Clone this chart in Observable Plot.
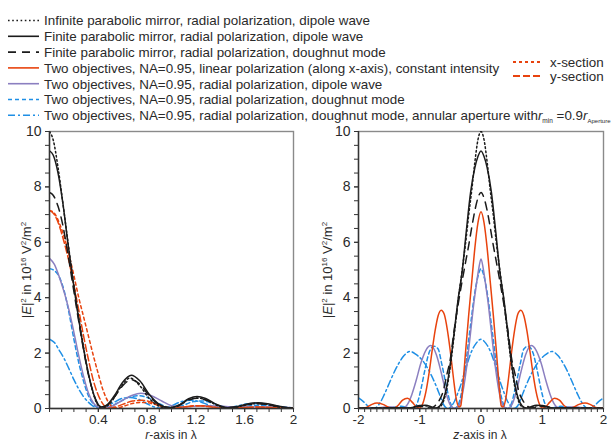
<!DOCTYPE html>
<html><head><meta charset="utf-8">
<script src="https://cdn.jsdelivr.net/npm/d3@7"></script>
<script src="https://cdn.jsdelivr.net/npm/@observablehq/plot@0.6"></script>
<style>
body{margin:0;background:#fff}
#root{position:relative;width:613px;height:441px;overflow:hidden;background:#fff;font-family:"Liberation Sans",Arial,sans-serif}
#legend{position:absolute;left:0;top:0}
#left{position:absolute;left:0;top:115px}
#right{position:absolute;left:306px;top:115px}
</style></head>
<body>
<div id="root"><svg id="legend" width="613" height="130"></svg><div id="left"></div><div id="right"></div></div>
<script>
// ---------- data ----------
// left panel: radial cut, r in wavelengths, |E|^2 in 1e16 V^2/m^2
const rInfDipole = [[0,10],[0.03,9.7],[0.07,8.7],[0.11,7.4],[0.15,6.05],[0.19,4.75],[0.23,3.55],[0.27,2.45],[0.31,1.45],[0.35,0.68],[0.39,0.17],[0.43,0.01],[0.5,0.2],[0.58,0.75],[0.66,1.1],[0.74,0.82],[0.82,0.35],[0.9,0.08],[0.97,0.0],[1.05,0.1],[1.13,0.3],[1.21,0.38],[1.29,0.3],[1.38,0.1],[1.46,0.0],[1.55,0.07],[1.63,0.15],[1.71,0.18],[1.79,0.14],[1.88,0.05],[1.96,0.0],[2,0.02]];
const rFinDipole = [[0,9.3],[0.03,9.15],[0.07,8.5],[0.11,7.4],[0.15,6.0],[0.19,4.7],[0.23,3.5],[0.27,2.4],[0.31,1.45],[0.35,0.7],[0.39,0.2],[0.43,0.05],[0.47,0.12],[0.53,0.45],[0.6,0.95],[0.67,1.2],[0.74,1.0],[0.82,0.5],[0.9,0.15],[0.98,0.03],[1.06,0.12],[1.14,0.35],[1.21,0.43],[1.28,0.36],[1.37,0.15],[1.46,0.03],[1.55,0.08],[1.63,0.17],[1.71,0.21],[1.79,0.17],[1.88,0.08],[1.96,0.03],[2,0.02]];
const rFinDoughnut = [[0,7.8],[0.03,7.7],[0.07,7.3],[0.11,6.6],[0.15,5.6],[0.19,4.5],[0.23,3.4],[0.27,2.35],[0.31,1.4],[0.35,0.7],[0.39,0.22],[0.43,0.06],[0.47,0.12],[0.53,0.4],[0.6,0.82],[0.67,1.04],[0.74,0.88],[0.82,0.45],[0.9,0.13],[0.98,0.03],[1.06,0.1],[1.14,0.3],[1.21,0.37],[1.28,0.31],[1.37,0.13],[1.46,0.03],[1.55,0.07],[1.63,0.14],[1.71,0.17],[1.79,0.14],[1.88,0.07],[1.96,0.02],[2,0.02]];
const rLinearX = [[0,7.15],[0.04,7.05],[0.08,6.7],[0.12,6.2],[0.16,5.55],[0.2,4.8],[0.24,4.0],[0.28,3.3],[0.32,2.6],[0.36,1.9],[0.4,1.25],[0.44,0.65],[0.48,0.25],[0.52,0.05],[0.56,0.02],[0.62,0.1],[0.7,0.2],[0.78,0.22],[0.86,0.15],[0.95,0.05],[1.03,0.02],[1.12,0.06],[1.22,0.1],[1.32,0.07],[1.42,0.02],[1.55,0.03],[1.7,0.05],[1.85,0.03],[2,0.01]];
const rLinearY = [[0,7.15],[0.04,7.0],[0.08,6.6],[0.12,6.0],[0.16,5.3],[0.2,4.45],[0.24,3.55],[0.28,2.6],[0.32,1.75],[0.36,1.0],[0.4,0.48],[0.44,0.15],[0.48,0.02],[0.52,0.03],[0.6,0.15],[0.68,0.27],[0.76,0.3],[0.84,0.22],[0.92,0.08],[1.0,0.02],[1.1,0.06],[1.2,0.1],[1.3,0.07],[1.4,0.02],[1.55,0.03],[1.7,0.05],[1.85,0.03],[2,0.01]];
const rRadDipole = [[0,5.42],[0.04,5.2],[0.08,4.75],[0.12,4.2],[0.16,3.55],[0.2,2.75],[0.24,1.9],[0.28,1.15],[0.32,0.55],[0.36,0.2],[0.4,0.05],[0.45,0.02],[0.52,0.1],[0.6,0.3],[0.68,0.48],[0.75,0.55],[0.83,0.47],[0.92,0.27],[1.0,0.1],[1.08,0.05],[1.18,0.08],[1.3,0.1],[1.42,0.08],[1.55,0.05],[1.7,0.06],[1.85,0.05],[2,0.03]];
const rRadDoughnut = [[0,5.05],[0.04,4.98],[0.08,4.75],[0.12,4.25],[0.16,3.45],[0.2,2.5],[0.24,1.65],[0.28,0.97],[0.32,0.45],[0.36,0.16],[0.4,0.04],[0.44,0.01],[0.5,0.08],[0.58,0.25],[0.66,0.42],[0.73,0.46],[0.8,0.4],[0.88,0.22],[0.96,0.06],[1.02,0.02],[1.1,0.12],[1.18,0.25],[1.25,0.27],[1.33,0.2],[1.42,0.07],[1.5,0.02],[1.6,0.07],[1.7,0.12],[1.78,0.12],[1.88,0.07],[2,0.02]];
const rAnnular = [[0,2.5],[0.04,2.38],[0.08,2.1],[0.12,1.8],[0.16,1.43],[0.2,1.04],[0.24,0.7],[0.28,0.42],[0.32,0.22],[0.36,0.08],[0.4,0.01],[0.45,0.04],[0.52,0.2],[0.6,0.37],[0.66,0.4],[0.73,0.33],[0.8,0.17],[0.87,0.04],[0.92,0.01],[0.99,0.08],[1.07,0.23],[1.15,0.3],[1.23,0.25],[1.31,0.12],[1.39,0.02],[1.45,0.01],[1.53,0.08],[1.62,0.17],[1.7,0.19],[1.78,0.14],[1.87,0.05],[1.95,0.01],[2,0.02]];

// right panel: axial cut, z in wavelengths
const zInfDipole = [[-2,0.01],[-1.6,0.02],[-1.4,0.03],[-1.22,0.01],[-1.12,0.03],[-1.02,0.08],[-0.92,0.1],[-0.82,0.05],[-0.74,0.01],[-0.67,0.06],[-0.61,0.28],[-0.55,0.8],[-0.49,1.7],[-0.43,2.8],[-0.37,3.95],[-0.31,4.95],[-0.25,6.0],[-0.2,7.0],[-0.15,7.9],[-0.1,8.9],[-0.05,9.7],[0,10],[0.05,9.7],[0.1,8.9],[0.15,7.9],[0.2,7.0],[0.25,6.0],[0.31,4.95],[0.37,3.95],[0.43,2.8],[0.49,1.7],[0.55,0.8],[0.61,0.28],[0.67,0.06],[0.74,0.01],[0.82,0.05],[0.92,0.1],[1.02,0.08],[1.12,0.03],[1.22,0.01],[1.4,0.03],[1.6,0.02],[2,0.01]];
const zFinDipole = [[-2,0.01],[-1.7,0.01],[-1.5,0.03],[-1.35,0.03],[-1.2,0.01],[-1.1,0.05],[-1.0,0.11],[-0.9,0.12],[-0.8,0.05],[-0.74,0.02],[-0.67,0.1],[-0.61,0.35],[-0.55,0.9],[-0.49,1.8],[-0.43,2.9],[-0.37,4.0],[-0.31,4.9],[-0.24,6.4],[-0.17,7.8],[-0.1,8.7],[-0.05,9.1],[0,9.3],[0.05,9.1],[0.1,8.7],[0.17,7.8],[0.24,6.4],[0.31,4.9],[0.37,4.0],[0.43,2.9],[0.49,1.8],[0.55,0.9],[0.61,0.35],[0.67,0.1],[0.74,0.02],[0.8,0.05],[0.9,0.12],[1.0,0.11],[1.1,0.05],[1.2,0.01],[1.35,0.03],[1.5,0.03],[1.7,0.01],[2,0.01]];
const zFinDoughnut = [[-2,0.01],[-1.6,0.02],[-1.4,0.02],[-1.2,0.02],[-1.1,0.06],[-1.0,0.08],[-0.9,0.04],[-0.82,0.02],[-0.75,0.1],[-0.68,0.3],[-0.62,0.6],[-0.56,1.2],[-0.5,1.8],[-0.44,2.8],[-0.37,3.8],[-0.3,4.7],[-0.25,5.3],[-0.2,5.9],[-0.15,6.55],[-0.1,7.15],[-0.05,7.6],[0,7.8],[0.05,7.6],[0.1,7.15],[0.15,6.55],[0.2,5.9],[0.25,5.3],[0.3,4.7],[0.37,3.8],[0.44,2.8],[0.5,1.8],[0.56,1.2],[0.62,0.6],[0.68,0.3],[0.75,0.1],[0.82,0.02],[0.9,0.04],[1.0,0.08],[1.1,0.06],[1.2,0.02],[1.4,0.02],[1.6,0.02],[2,0.01]];
const zLinear = [[-2,0.02],[-1.93,0.01],[-1.86,0.05],[-1.78,0.15],[-1.7,0.2],[-1.6,0.15],[-1.5,0.04],[-1.43,0.01],[-1.36,0.1],[-1.28,0.3],[-1.2,0.37],[-1.12,0.22],[-1.05,0.05],[-1.0,0.02],[-0.95,0.18],[-0.9,0.6],[-0.85,1.25],[-0.8,2.05],[-0.75,2.8],[-0.7,3.35],[-0.65,3.55],[-0.6,3.4],[-0.55,2.85],[-0.5,2.05],[-0.45,1.1],[-0.4,0.3],[-0.36,0.05],[-0.33,0.1],[-0.29,1.0],[-0.25,2.1],[-0.2,3.4],[-0.15,4.6],[-0.1,5.8],[-0.05,6.7],[0,7.1],[0.05,6.7],[0.1,5.8],[0.15,4.6],[0.2,3.4],[0.25,2.1],[0.29,1.0],[0.33,0.1],[0.36,0.05],[0.4,0.3],[0.45,1.1],[0.5,2.05],[0.55,2.85],[0.6,3.4],[0.65,3.55],[0.7,3.35],[0.75,2.8],[0.8,2.05],[0.85,1.25],[0.9,0.6],[0.95,0.18],[1.0,0.02],[1.05,0.05],[1.12,0.22],[1.2,0.37],[1.28,0.3],[1.36,0.1],[1.43,0.01],[1.5,0.04],[1.6,0.15],[1.7,0.2],[1.78,0.15],[1.86,0.05],[1.93,0.01],[2,0.02]];
const zRadDipole = [[-2,0.01],[-1.7,0.02],[-1.55,0.05],[-1.45,0.05],[-1.35,0.02],[-1.27,0.02],[-1.2,0.15],[-1.13,0.5],[-1.06,1.0],[-0.98,1.65],[-0.9,2.1],[-0.82,2.27],[-0.73,1.95],[-0.65,1.3],[-0.57,0.55],[-0.5,0.12],[-0.43,0.0],[-0.36,0.1],[-0.32,0.35],[-0.28,0.8],[-0.24,1.4],[-0.2,2.15],[-0.16,2.95],[-0.12,3.75],[-0.08,4.4],[-0.04,5.0],[0,5.4],[0.04,5.0],[0.08,4.4],[0.12,3.75],[0.16,2.95],[0.2,2.15],[0.24,1.4],[0.28,0.8],[0.32,0.35],[0.36,0.1],[0.43,0.0],[0.5,0.12],[0.57,0.55],[0.65,1.3],[0.73,1.95],[0.82,2.27],[0.9,2.1],[0.98,1.65],[1.06,1.0],[1.13,0.5],[1.2,0.15],[1.27,0.02],[1.35,0.02],[1.45,0.05],[1.55,0.05],[1.7,0.02],[2,0.01]];
const zRadDoughnut = [[-2,0.01],[-1.8,0.02],[-1.6,0.01],[-1.45,0.04],[-1.3,0.08],[-1.18,0.03],[-1.1,0.02],[-1.04,0.2],[-0.98,0.7],[-0.92,1.35],[-0.85,2.0],[-0.77,2.25],[-0.7,2.15],[-0.64,1.6],[-0.57,0.85],[-0.5,0.2],[-0.44,0.0],[-0.4,0.04],[-0.36,0.2],[-0.32,0.55],[-0.28,1.1],[-0.24,1.75],[-0.2,2.5],[-0.16,3.2],[-0.12,3.9],[-0.08,4.45],[-0.04,4.85],[0,5.05],[0.04,4.85],[0.08,4.45],[0.12,3.9],[0.16,3.2],[0.2,2.5],[0.24,1.75],[0.28,1.1],[0.32,0.55],[0.36,0.2],[0.4,0.04],[0.44,0.0],[0.5,0.2],[0.57,0.85],[0.64,1.6],[0.7,2.15],[0.77,2.25],[0.85,2.0],[0.92,1.35],[0.98,0.7],[1.04,0.2],[1.1,0.02],[1.18,0.03],[1.3,0.08],[1.45,0.04],[1.6,0.01],[1.8,0.02],[2,0.01]];
const zAnnular = [[-2,0.38],[-1.92,0.25],[-1.85,0.1],[-1.78,0.02],[-1.72,0.03],[-1.65,0.2],[-1.58,0.5],[-1.5,0.9],[-1.42,1.3],[-1.35,1.6],[-1.26,1.9],[-1.16,2.06],[-1.06,1.95],[-0.95,1.72],[-0.87,1.45],[-0.8,1.15],[-0.72,0.75],[-0.65,0.35],[-0.6,0.1],[-0.54,0.0],[-0.48,0.1],[-0.43,0.27],[-0.38,0.55],[-0.33,0.85],[-0.27,1.3],[-0.22,1.65],[-0.16,2.03],[-0.08,2.35],[0,2.5],[0.08,2.35],[0.16,2.03],[0.22,1.65],[0.27,1.3],[0.33,0.85],[0.38,0.55],[0.43,0.27],[0.48,0.1],[0.54,0.0],[0.6,0.1],[0.65,0.35],[0.72,0.75],[0.8,1.15],[0.87,1.45],[0.95,1.72],[1.06,1.95],[1.16,2.06],[1.26,1.9],[1.35,1.6],[1.42,1.3],[1.5,0.9],[1.58,0.5],[1.65,0.2],[1.72,0.03],[1.78,0.02],[1.85,0.1],[1.92,0.25],[2,0.38]];

// tick labels
const rTickLabels = [0.4, 0.8, 1.2, 1.6, 2];
const zTickLabels = [-2, -1, 0, 1, 2];
const yTickLabels = [0, 2, 4, 6, 8, 10];

// legend texts
const legendLabels = [
  "Infinite parabolic mirror, radial polarization, dipole wave",
  "Finite parabolic mirror, radial polarization, dipole wave",
  "Finite parabolic mirror, radial polarization, doughnut mode",
  "Two objectives, NA=0.95, linear polarization (along x-axis), constant intensity",
  "Two objectives, NA=0.95, radial polarization, dipole wave",
  "Two objectives, NA=0.95, radial polarization, doughnut mode",
  "Two objectives, NA=0.95, radial polarization, doughnut mode, annular aperture with"
];
const sectionLabels = ["x-section", "y-section"];

// ---------- styles ----------
const BLACK = "#1b1b1b", RED = "#e8430e", PURPLE = "#8b7fc0", BLUE = "#1f8fe5";
const legendStyles = [
  {stroke: BLACK, dash: "1.6,2.6"},
  {stroke: BLACK, dash: null},
  {stroke: BLACK, dash: "8,6"},
  {stroke: RED, dash: null},
  {stroke: PURPLE, dash: null},
  {stroke: BLUE, dash: "4,3"},
  {stroke: BLUE, dash: "7,3,2,3"}
];
const sectionStyles = [{stroke: RED, dash: "3,3"}, {stroke: RED, dash: "7,3"}];
const FONT = '"Liberation Sans", Arial, sans-serif';
const TXT = "#2a2a2a";
const LEG_FS = 13.4;
const plain = d => String(d);

function lineMark(data, st) {
  return Plot.line(data, {x: d => d[0], y: d => d[1], stroke: st.stroke, strokeWidth: 1.5,
    strokeDasharray: st.dash || undefined, curve: "monotone-x", clip: true});
}

function panel(xDomain, xLabels, series, minorStep) {
  const minor = d3.range(Math.round((xDomain[1]-xDomain[0])/minorStep)+1).map(i => xDomain[0] + i*minorStep);
  const yMinor = d3.range(21).map(i => i*0.5);
  return [
    Plot.frame({stroke: "#8a8a8a", strokeWidth: 1.4}),
    Plot.axisX({ticks: minor, tickSize: 4, tickFormat: () => "", label: null, stroke: "#333"}),
    Plot.axisX({ticks: xLabels, tickSize: 4, tickPadding: 2, label: null, tickFormat: plain, fill: TXT, stroke: "#333", fontSize: 13.5}),
    Plot.axisY({ticks: yMinor, tickSize: 4, tickFormat: () => "", label: null, stroke: "#333"}),
    Plot.axisY({ticks: yTickLabels, tickSize: 4, tickPadding: 4, label: null, tickFormat: plain, fill: TXT, stroke: "#333", fontSize: 14}),
    ...series.map(([d, st]) => lineMark(d, st)),
    Plot.ruleX([xDomain[0]], {stroke: "#333", strokeWidth: 1.4}),
    Plot.ruleY([0], {stroke: "#333", strokeWidth: 1.4})
  ];
}

const S = {
  infDipole: legendStyles[0], finDipole: legendStyles[1], finDoughnut: legendStyles[2],
  linear: legendStyles[3], radDipole: legendStyles[4], radDoughnut: legendStyles[5], annular: legendStyles[6],
  linX: sectionStyles[0], linY: sectionStyles[1]
};

const leftSvg = Plot.plot({
  width: 306, height: 326, marginLeft: 49, marginRight: 13, marginTop: 16, marginBottom: 33,
  style: {fontFamily: FONT, fontSize: "14px", background: "transparent", overflow: "visible"},
  x: {domain: [0, 2]}, y: {domain: [0, 10]},
  marks: panel([0, 2], rTickLabels, [
    [rAnnular, S.annular], [rRadDoughnut, S.radDoughnut], [rRadDipole, S.radDipole],
    [rLinearX, S.linX], [rLinearY, S.linY],
    [rFinDoughnut, S.finDoughnut], [rInfDipole, S.infDipole], [rFinDipole, S.finDipole]
  ], 0.1)
});
document.getElementById("left").appendChild(leftSvg);

const rightSvg = Plot.plot({
  width: 307, height: 326, marginLeft: 52, marginRight: 10, marginTop: 16, marginBottom: 33,
  style: {fontFamily: FONT, fontSize: "14px", background: "transparent", overflow: "visible"},
  x: {domain: [-2, 2]}, y: {domain: [0, 10]},
  marks: panel([-2, 2], zTickLabels, [
    [zAnnular, S.annular], [zRadDoughnut, S.radDoughnut], [zRadDipole, S.radDipole],
    [zLinear, S.linear],
    [zFinDoughnut, S.finDoughnut], [zInfDipole, S.infDipole], [zFinDipole, S.finDipole]
  ], 0.1)
});
document.getElementById("right").appendChild(rightSvg);

// axis titles
function yTitle(svg, x, cy) {
  const t = d3.select(svg).append("text")
    .attr("transform", `translate(${x},${cy}) rotate(-90)`)
    .attr("text-anchor", "middle").attr("fill", TXT)
    .style("font-family", FONT).style("font-size", "13px");
  t.append("tspan").text("|");
  t.append("tspan").text("E").style("font-style", "italic");
  t.append("tspan").text("|");
  t.append("tspan").text("2").attr("dy", -5).style("font-size", "8px");
  t.append("tspan").text(" in 10").attr("dy", 5);
  t.append("tspan").text("16").attr("dy", -5).style("font-size", "8px");
  t.append("tspan").text(" V").attr("dy", 5);
  t.append("tspan").text("2").attr("dy", -5).style("font-size", "8px");
  t.append("tspan").text("/m").attr("dy", 5);
  t.append("tspan").text("2").attr("dy", -5).style("font-size", "8px");
}
function xTitle(svg, cx, y, v) {
  const t = d3.select(svg).append("text")
    .attr("x", cx).attr("y", y).attr("text-anchor", "middle").attr("fill", TXT)
    .style("font-family", FONT).style("font-size", "12px");
  t.append("tspan").text(v).style("font-style", "italic");
  t.append("tspan").text("-axis in λ");
}
yTitle(leftSvg, 31, 155);
yTitle(rightSvg, 26, 155);
xTitle(leftSvg, 171, 323.5, "r");
xTitle(rightSvg, 174, 323.5, "z");

// legend
const lg = d3.select("#legend");
const rowY = i => 20.5 + i * 15.8;
legendLabels.forEach((lab, i) => {
  const st = legendStyles[i];
  lg.append("line").attr("x1", 8).attr("x2", 39).attr("y1", rowY(i)).attr("y2", rowY(i))
    .attr("stroke", st.stroke).attr("stroke-width", 1.6).attr("stroke-dasharray", st.dash);
  const t = lg.append("text").attr("x", 44).attr("y", rowY(i) + 4.8).attr("fill", TXT)
    .style("font-family", FONT).style("font-size", LEG_FS + "px");
  t.append("tspan").text(lab);
  if (i === legendLabels.length - 1) {
    t.append("tspan").text("r").style("font-style", "italic");
    t.append("tspan").text("min").attr("dy", 3).style("font-size", "6.5px");
    t.append("tspan").text(" =0.9").attr("dy", -3);
    t.append("tspan").text("r").style("font-style", "italic");
    t.append("tspan").text("Aperture").attr("dy", 3).style("font-size", "6px");
  }
});
// fit the long last row inside the window, as in the reference where it reaches the edge
{
  const last = lg.selectAll("text").nodes()[legendLabels.length - 1];
  const w = last.getComputedTextLength();
  if (44 + w > 611) last.setAttribute("textLength", 611 - 44), last.setAttribute("lengthAdjust", "spacingAndGlyphs");
}
sectionLabels.forEach((lab, i) => {
  const y = 62 + i * 14;
  const st = sectionStyles[i];
  lg.append("line").attr("x1", 513).attr("x2", 541).attr("y1", y).attr("y2", y)
    .attr("stroke", st.stroke).attr("stroke-width", 1.8).attr("stroke-dasharray", st.dash);
  lg.append("text").attr("x", 550).attr("y", y + 4.6).attr("fill", TXT)
    .style("font-family", FONT).style("font-size", LEG_FS + "px").text(lab);
});
</script>
</body></html>
